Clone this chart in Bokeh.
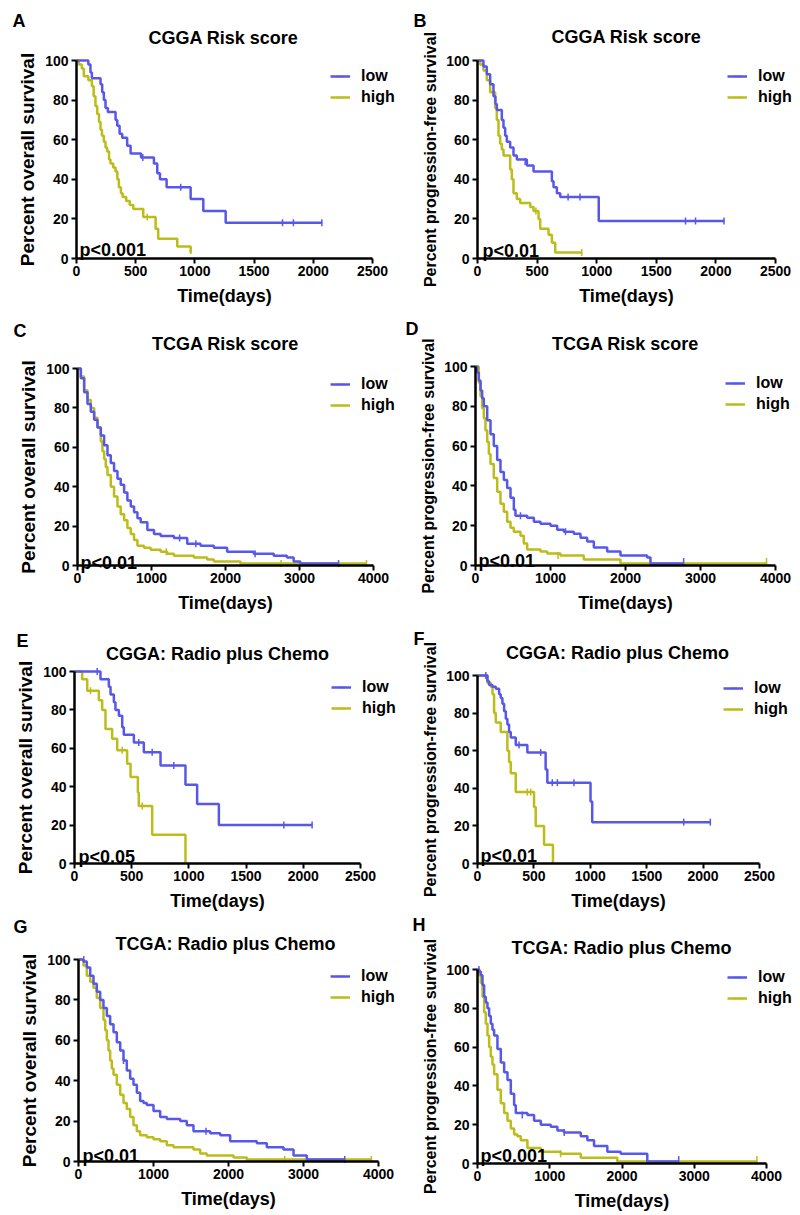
import numpy as np
from bokeh.plotting import figure
from bokeh.models import Range1d, FixedTicker, Label, Legend, LegendItem
from bokeh.layouts import column, row
from bokeh.embed import file_html
from bokeh.resources import INLINE

# ---------------- data (days, percent survival) ----------------
XT_CGGA = [0, 500, 1000, 1500, 2000, 2500]
XT_TCGA = [0, 1000, 2000, 3000, 4000]
YT = [0, 20, 40, 60, 80, 100]

# A: CGGA Risk score, overall survival
A_low_t = [0, 100, 118, 130, 203, 217, 231, 245, 265, 330, 344, 364, 386, 428, 457, 545, 654, 682, 705, 761, 964, 1071, 1260, 2075]
A_low_s = [100, 98, 94, 91, 88, 84, 80, 76, 74, 70, 67, 63, 61, 57, 53, 51, 48, 43, 40, 36, 30, 24, 18, 18]
A_low_ct = [560, 880, 1740, 1832, 2072]
A_low_cs = [51, 36, 18, 18, 18]
A_high_t = [0, 20, 45, 62, 100, 130, 145, 160, 175, 190, 203, 215, 231, 245, 259, 275, 287, 310, 330, 345, 358, 375, 390, 420, 450, 480, 564, 668, 690, 851, 964, 968]
A_high_s = [100, 98, 96, 92, 90, 87, 82, 77, 73, 69, 65, 62, 59, 56, 54, 50, 48, 46, 44, 40, 36, 33, 31, 29, 27, 25, 21, 15, 10, 6, 3, 3]
A_high_ct = [597, 966]
A_high_cs = [21, 4]

# B: CGGA Risk score, progression-free survival
B_low_t = [0, 50, 78, 106, 134, 150, 162, 204, 218, 232, 246, 274, 302, 330, 414, 470, 624, 638, 666, 694, 1017, 2070]
B_low_s = [100, 97, 93, 88, 82, 78, 75, 70, 66, 62, 59, 56, 52, 50, 47, 44, 39, 36, 33, 31, 19, 19]
B_low_ct = [400, 760, 860, 1745, 1829, 2068]
B_low_cs = [49, 31, 31, 19, 19, 19]
B_high_t = [0, 22, 50, 78, 106, 148, 162, 176, 190, 204, 218, 274, 288, 302, 330, 358, 442, 470, 512, 526, 596, 624, 652, 877]
B_high_s = [100, 98, 95, 90, 84, 76, 70, 62, 58, 55, 52, 45, 40, 33, 30, 28, 26, 24, 20, 15, 12, 8, 3, 3]
B_high_ct = [490, 875]
B_high_cs = [24, 3]

# C: TCGA Risk score, overall survival
C_low_t = [0, 45, 90, 135, 180, 225, 270, 315, 360, 405, 450, 494, 540, 584, 630, 674, 720, 764, 810, 854, 944, 1034, 1124, 1303, 1483, 1663, 1843, 2022, 2382, 2652, 2831, 2921, 3011, 3530]
C_low_s = [100, 95, 88, 82, 78, 74, 70, 66, 61, 56, 52, 48, 44, 41, 37, 33, 30, 27, 24, 22, 18, 16, 15, 14, 11, 10, 9, 7, 6, 5, 4, 2, 1, 1]
C_low_ct = [1380, 1600, 2400, 3528]
C_low_cs = [14, 11, 6, 1]
C_high_t = [0, 45, 90, 135, 180, 225, 270, 315, 337, 360, 382, 405, 450, 494, 540, 584, 630, 674, 720, 764, 810, 899, 989, 1124, 1213, 1303, 1573, 1753, 1843, 2202, 3910]
C_high_s = [100, 96, 89, 84, 80, 75, 70, 63, 58, 54, 50, 46, 40, 35, 30, 26, 23, 19, 16, 13, 10, 9, 8, 7, 6, 5, 4, 3, 2, 1, 1]
C_high_ct = [1200, 2750, 3905]
C_high_cs = [7, 1, 1]

# D: TCGA Risk score, progression-free survival
D_low_t = [0, 22, 44, 67, 89, 111, 156, 200, 244, 289, 333, 378, 422, 467, 511, 533, 689, 778, 867, 1000, 1089, 1178, 1311, 1400, 1489, 1578, 1756, 1933, 2289, 2333, 2778]
D_low_s = [100, 97, 93, 88, 84, 80, 73, 66, 60, 53, 47, 43, 39, 34, 28, 25, 24, 22, 21, 20, 18, 17, 16, 14, 12, 9, 7, 5, 4, 1, 1]
D_low_ct = [600, 1200, 2775]
D_low_cs = [25, 17, 2]
D_high_t = [0, 44, 67, 89, 111, 133, 156, 178, 200, 244, 289, 333, 378, 422, 467, 511, 600, 644, 689, 867, 956, 1133, 1444, 1933, 3889]
D_high_s = [100, 92, 85, 79, 74, 68, 62, 56, 51, 44, 37, 31, 27, 22, 19, 17, 15, 11, 8, 7, 6, 5, 3, 1, 1]
D_high_ct = [1100, 3880]
D_high_cs = [5, 2]

# E: CGGA Radio plus Chemo, overall survival
E_low_t = [0, 227, 300, 315, 344, 358, 388, 417, 431, 519, 606, 752, 970, 1072, 1262, 2077]
E_low_s = [100, 96, 92, 88, 84, 80, 77, 71, 67, 63, 58, 51, 41, 31, 20, 20]
E_low_ct = [198, 562, 679, 868, 1830, 2077]
E_low_cs = [100, 63, 58, 51, 20, 20]
E_high_t = [0, 67, 111, 213, 242, 271, 329, 373, 460, 490, 554, 562, 679, 970]
E_high_s = [100, 96, 90, 85, 80, 70, 65, 59, 52, 45, 37, 30, 15, 0]
E_high_ct = [140, 417, 592]
E_high_cs = [90, 59, 30]

# F: CGGA Radio plus Chemo, progression-free survival
F_low_t = [0, 88, 103, 133, 162, 192, 206, 221, 236, 251, 265, 280, 295, 339, 442, 604, 619, 1002, 1017, 2064]
F_low_s = [100, 97, 95, 94, 93, 90, 88, 85, 81, 77, 74, 70, 67, 63, 59, 50, 43, 33, 22, 22]
F_low_ct = [74, 368, 560, 663, 708, 855, 1828, 2064]
F_low_cs = [100, 63, 59, 43, 43, 43, 22, 22]
F_high_t = [0, 88, 118, 133, 147, 162, 206, 265, 280, 295, 339, 501, 516, 590, 669]
F_high_s = [100, 96, 94, 90, 80, 75, 70, 60, 54, 48, 38, 30, 20, 10, 0]
F_high_ct = [442, 472]
F_high_cs = [38, 38]

# G: TCGA Radio plus Chemo, overall survival
G_low_t = [0, 67, 111, 156, 200, 244, 289, 333, 378, 422, 467, 511, 556, 600, 644, 689, 733, 778, 822, 867, 911, 1000, 1089, 1178, 1356, 1444, 1533, 1756, 1889, 2022, 2378, 2511, 2733, 2867, 3044, 3556]
G_low_s = [100, 99, 96, 92, 88, 84, 80, 76, 72, 68, 64, 59, 55, 50, 45, 41, 38, 34, 30, 29, 28, 25, 22, 21, 20, 18, 15, 14, 13, 10, 9, 7, 6, 3, 1, 1]
G_low_ct = [70, 600, 1700, 3550]
G_low_cs = [100, 50, 15, 1]
G_high_t = [0, 67, 111, 156, 200, 244, 289, 333, 356, 378, 400, 422, 444, 467, 511, 556, 600, 644, 689, 733, 778, 822, 911, 1000, 1089, 1178, 1267, 1533, 1622, 1711, 2067, 2244, 3911]
G_high_s = [100, 97, 92, 89, 86, 81, 76, 70, 65, 60, 55, 50, 46, 43, 38, 33, 29, 26, 22, 18, 15, 13, 12, 11, 10, 8, 7, 6, 4, 3, 2, 1, 1]
G_high_ct = [2750, 3905]
G_high_cs = [1, 1]

# H: TCGA Radio plus Chemo, progression-free survival
H_low_t = [0, 23, 46, 69, 92, 115, 138, 161, 184, 207, 230, 276, 323, 369, 415, 461, 507, 530, 691, 783, 876, 1014, 1106, 1198, 1429, 1521, 1613, 1797, 1982, 2350, 2788]
H_low_s = [100, 99, 97, 92, 86, 83, 80, 76, 72, 69, 66, 59, 52, 47, 43, 36, 30, 26, 25, 22, 20, 19, 17, 16, 14, 12, 9, 6, 5, 1, 1]
H_low_ct = [20, 620, 1200, 2785]
H_low_cs = [100, 25, 16, 2]
H_high_t = [0, 23, 46, 69, 92, 115, 138, 161, 184, 207, 230, 276, 323, 369, 415, 461, 507, 553, 599, 691, 876, 1152, 1429, 1935, 3871]
H_high_s = [100, 97, 93, 86, 78, 72, 66, 60, 55, 51, 46, 38, 31, 26, 22, 18, 15, 14, 12, 8, 6, 5, 3, 1, 1]
H_high_ct = [1150, 3868]
H_high_cs = [5, 2]

SERIES_NAMES = ["low", "high"]
P_VALUES = {"A": "p<0.001", "B": "p<0.01", "C": "p<0.01", "D": "p<0.01",
            "E": "p<0.05", "F": "p<0.01", "G": "p<0.01", "H": "p<0.001"}
TITLES = {"A": "CGGA Risk score", "B": "CGGA Risk score",
          "C": "TCGA Risk score", "D": "TCGA Risk score",
          "E": "CGGA: Radio plus Chemo", "F": "CGGA: Radio plus Chemo",
          "G": "TCGA: Radio plus Chemo", "H": "TCGA: Radio plus Chemo"}
OS_LABEL = "Percent overall survival"
PFS_LABEL = "Percent progression-free survival"
X_LABEL = "Time(days)"

DATA = {k: dict(low=(globals()[k + "_low_t"], globals()[k + "_low_s"], globals()[k + "_low_ct"], globals()[k + "_low_cs"]),
                high=(globals()[k + "_high_t"], globals()[k + "_high_s"], globals()[k + "_high_ct"], globals()[k + "_high_cs"]))
        for k in "ABCDEFGH"}

# ---------------- styling / layout (page pixel coordinates) ----------------
BLUE = "#5858e8"
OLIVE = "#bcbc1a"
FONT = "Liberation Sans"

LAYOUT = {
    "A": dict(box=(0, 0, 400, 308), frame=(76, 372, 60, 258), letter=(12, 20), title=(223, 37), pval=(79, 249), leg=(330, 76), xt=XT_CGGA, yl=OS_LABEL),
    "B": dict(box=(400, 0, 400, 308), frame=(477, 775, 60, 258), letter=(413, 20), title=(626, 36), pval=(482, 250), leg=(727, 76), xt=XT_CGGA, yl=PFS_LABEL),
    "C": dict(box=(0, 308, 400, 309), frame=(77, 373, 368, 565), letter=(13, 330), title=(225, 343), pval=(80, 562), leg=(330, 384), xt=XT_TCGA, yl=OS_LABEL),
    "D": dict(box=(400, 308, 400, 309), frame=(475, 775, 366, 565), letter=(405, 328), title=(625, 343), pval=(478, 560), leg=(725, 383), xt=XT_TCGA, yl=PFS_LABEL),
    "E": dict(box=(0, 617, 400, 296), frame=(74, 360, 671, 863), letter=(16, 640), title=(217, 653), pval=(78, 856), leg=(331, 687), xt=XT_CGGA, yl=OS_LABEL),
    "F": dict(box=(400, 617, 400, 296), frame=(477, 759, 675, 863), letter=(413, 638), title=(617, 652), pval=(480, 855), leg=(723, 688), xt=XT_CGGA, yl=PFS_LABEL),
    "G": dict(box=(0, 913, 400, 302), frame=(78, 378, 959, 1161), letter=(13, 926), title=(225, 943), pval=(82, 1155), leg=(330, 976), xt=XT_TCGA, yl=OS_LABEL),
    "H": dict(box=(400, 913, 400, 302), frame=(477, 766, 969, 1163), letter=(412, 924), title=(621, 947), pval=(480, 1155), leg=(727, 977), xt=XT_TCGA, yl=PFS_LABEL),
}


def make_panel(key):
    L = LAYOUT[key]
    ox, oy, w, h = L["box"]
    ax_l, ax_r, y100, y0 = L["frame"]   # page pixels of x=0, x=max, y=100, y=0
    xmax = L["xt"][-1]
    sx = xmax / (ax_r - ax_l)           # data units per pixel (x)
    sy = 100.0 / (y0 - y100)            # data units per pixel (y)

    def X(px):
        return (px - ax_l) * sx

    def Y(py):
        return (y0 - py) * sy

    # the plotting frame covers the whole canvas; axes are pinned at 0
    p = figure(width=w, height=h, output_backend="svg", toolbar_location=None,
               x_range=Range1d(X(ox), X(ox + w)), y_range=Range1d(Y(oy + h), Y(oy)),
               min_border=0, min_border_left=0, min_border_right=0,
               min_border_top=0, min_border_bottom=0,
               background_fill_color="white", border_fill_color="white")
    p.outline_line_color = None
    p.grid.visible = False

    p.xaxis.ticker = FixedTicker(ticks=L["xt"])
    p.yaxis.ticker = FixedTicker(ticks=YT)
    p.xaxis.fixed_location = 0
    p.yaxis.fixed_location = 0
    p.xaxis.bounds = (0, xmax)
    p.yaxis.bounds = (0, 100)
    for ax in (p.xaxis[0], p.yaxis[0]):
        ax.axis_line_width = 2.5
        ax.axis_line_color = "black"
        ax.major_tick_line_width = 2
        ax.major_tick_line_color = "black"
        ax.major_tick_out = 5
        ax.major_tick_in = 0
        ax.minor_tick_line_color = None
        ax.major_label_text_font = FONT
        ax.major_label_text_font_size = "14px"
        ax.major_label_text_font_style = "bold"
        ax.major_label_text_color = "black"
        ax.axis_label_text_font = FONT
        ax.axis_label_text_font_style = "bold"
        ax.axis_label_text_color = "black"
    p.xaxis.major_label_standoff = 2
    p.yaxis.major_label_standoff = 3
    p.xaxis.axis_label = X_LABEL
    p.xaxis.axis_label_text_font_size = "18px"
    p.xaxis.axis_label_standoff = 7
    p.yaxis.axis_label = L["yl"]
    p.yaxis.axis_label_text_font_size = "19px" if L["yl"] == OS_LABEL else "16px"
    p.yaxis.axis_label_standoff = 4

    # curves
    rends = {}
    for name, color in (("high", OLIVE), ("low", BLUE)):
        t, s, ct, cs = DATA[key][name]
        r = p.step(x=t, y=s, mode="after", line_width=2.5, line_color=color)
        c = p.scatter(x=ct, y=cs, marker="dash", angle=np.pi / 2, size=7,
                      line_color=color, line_width=1.5)
        rends[name] = [r, c]
    items = [LegendItem(label=name, renderers=rends[name]) for name in SERIES_NAMES]

    lx, ly = L["leg"]
    legend = Legend(items=items, location=(lx - ox, (oy + h) - (ly + 31)),
                    glyph_width=20, glyph_height=20, label_height=20, spacing=1,
                    padding=0, margin=0, label_standoff=11,
                    label_text_font=FONT, label_text_font_size="16px",
                    label_text_font_style="bold", label_text_color="black",
                    border_line_color=None, background_fill_alpha=0)
    p.add_layout(legend)

    # texts
    def add_text(pos, text, align, size):
        px_, py_ = pos
        p.add_layout(Label(x=X(px_), y=Y(py_), text=text, text_font=FONT, text_font_size=size,
                           text_font_style="bold", text_color="black",
                           text_align=align, text_baseline="alphabetic"))

    add_text(L["letter"], key, "left", "18px")
    add_text(L["title"], TITLES[key], "center", "18px")
    add_text(L["pval"], P_VALUES[key], "left", "18px")
    return p


figs = {k: make_panel(k) for k in "ABCDEFGH"}
layout = column(row(figs["A"], figs["B"]), row(figs["C"], figs["D"]),
                row(figs["E"], figs["F"]), row(figs["G"], figs["H"]))

open("out.html", "w").write(file_html(layout, INLINE))
